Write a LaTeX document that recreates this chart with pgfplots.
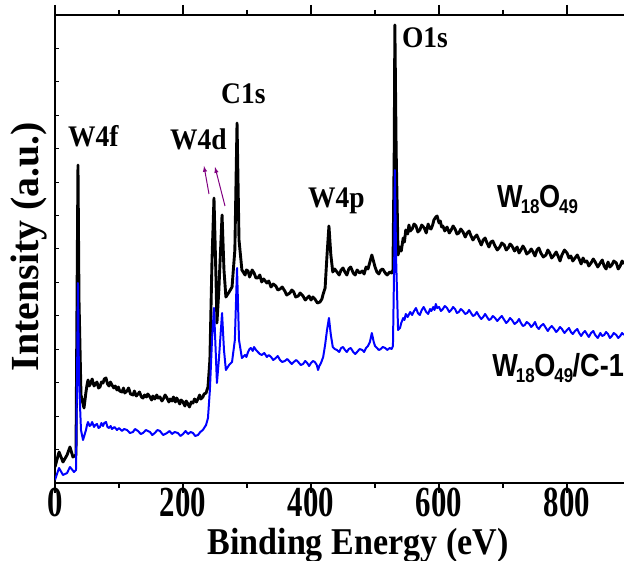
\documentclass[border=0pt]{standalone}
\usepackage{pgfplots}
\pgfplotsset{compat=1.18}
\usepackage{fontspec}
\setmainfont{Liberation Serif}
\newfontfamily\tickfont[FakeStretch=0.72]{Liberation Serif}
\newfontfamily\axlbl[FakeStretch=0.9]{Liberation Serif}
\newfontfamily\peak[FakeStretch=0.92]{Liberation Serif}
\newfontfamily\samp[FakeStretch=0.85]{Liberation Sans}
\definecolor{arrowpurple}{RGB}{128,0,128}

\begin{document}
\begin{tikzpicture}
  \begin{axis}[
      name=ax,
      scale only axis,
      width=569bp, height=468bp,
      xmin=0, xmax=889, ymin=0, ymax=468,
      axis x line=box, axis y line*=left,
      axis line style={line width=1.4pt},
      xtick={0,200,400,600,800},
      xticklabels={0,200,400,600,800},
      minor xtick={100,300,500,700},
      ytick distance=33.43,
      yticklabels={},
      x tick style={line width=1.2pt, black, /pgfplots/major tick length=10bp, /pgfplots/minor tick length=5bp},
      y tick style={line width=1pt, black, /pgfplots/major tick length=4bp},
      xtick align=outside,
      ytick align=inside,
      xticklabel style={font=\tickfont\bfseries\fontsize{43}{43}\selectfont, inner sep=0pt, yshift=-1bp},
      xlabel={Binding Energy (eV)},
      xlabel style={font=\axlbl\bfseries\fontsize{38}{38}\selectfont, inner sep=0pt,
        at={(axis description cs:0.5325,-0.152)}, anchor=base},
      ylabel={Intensity (a.u.)},
      ylabel style={font=\bfseries\fontsize{40}{40}\selectfont, inner sep=0pt,
        at={(axis description cs:-0.0457,0.505)}, anchor=center},
      clip=true,
    ]

    % W18O49
    \addplot[black, line width=2.9pt, line join=round] coordinates {
      (0,16) (6.3,31) (12.5,21) (18.8,28) (23.4,36) (28,26) (32.8,28) (34.4,183)
      (35.9,318) (37.5,183) (40.6,88) (45.3,75)
      (48.4,91) (50,98) (51.6,103) (53.5,97) (56,100) (58,104) (61,97) (63,99)
      (65.6,101) (68,95) (70.3,96) (72.5,101) (75,100) (77,104) (79.7,105)
      (82,99) (84.4,97) (86.5,101) (89,98) (92,95) (94,97) (96.9,93) (99,96)
      (101,92) (104.7,91) (107,95) (109,90) (112.5,92) (115,95) (118,89)
      (121.9,88) (124,92) (127,87) (129.7,89) (132,91) (135,86) (137.5,85)
      (140,88) (143,86) (145,89) (148.4,86) (151,83) (153,87) (156,84)
      (159,88) (161,85) (164,86) (167,82) (170,85) (172,88) (175,85) (178,81)
      (180,84) (182.8,82) (185,86) (188,81) (190,85) (192,83) (195,79)
      (197,83) (200,81) (203,77) (205,82) (207.8,79) (210,76) (213,81)
      (215.6,80) (218,84) (221,81) (223.4,84) (226,88) (228,84) (231,86)
      (233,89) (236,90)
      (239,96) (242,123) (245.3,223) (248.4,285) (251.6,203) (253,160)
      (256,193) (261,268) (264,213) (267,186) (272,191) (276.6,196) (281,233)
      (284.4,360) (287.5,243) (292,213)
      (297,208) (299,213) (301.6,212) (304,206) (306,209) (308,213) (311,210)
      (314,205) (317,205) (320,208) (323,201) (326,204) (331,200) (334,202)
      (337.5,196) (341,199) (345,197) (348,193) (351.6,194) (355,196)
      (359,192) (362,188) (367,190) (370,193) (373,191) (376,186) (380,187)
      (383,190) (387.5,187) (391,183) (394,185) (397,187) (400,183) (403,186)
      (406,184) (410,180) (414,181) (417,184) (419,189)
      (422,195) (425,228) (428,257) (431,228) (434,211) (437,214) (440.6,211)
      (444,208) (447,213) (450,215) (453,211) (456,208) (459,214) (462,216)
      (466,210) (469,208) (472,213) (476,210) (480,212) (483,209) (486,216)
      (489,214) (492,221) (495,228) (498,221) (500,216) (503,211) (506,209)
      (509,213) (512,214) (516,210) (519,208) (523,211) (526,210) (528,213)
      (530,333) (531,458) (533,333)
      (536,228) (539,236) (541,232) (544,245) (546,241) (548,253) (551,249)
      (553,258) (555,252) (558,254) (561,259) (564,257) (567,251) (570,253)
      (573,258) (577,255) (580,250) (583,259) (585,255) (587.5,254) (590,258)
      (592,263) (595,266) (597,267) (600,260) (602,262) (604,256) (606,257)
      (609,252) (612.5,256) (616,250) (619,253) (622,257) (625,254) (628,249)
      (631,250) (634,254) (637.5,251) (641,246) (644,250) (647,252) (650,247)
      (653,243) (656,246) (659,248) (662.5,243) (666,238) (669,243) (672,245)
      (675,240) (678,236) (681,241) (684,242) (687.5,237) (691,233) (695,236)
      (698,240) (702,238) (705,233) (708,235) (711,239) (714,237) (718,232)
      (722,236) (725,230) (728,233) (731,237) (734,234) (737,229) (741,231)
      (744,234) (747,231) (750,227) (753,233) (756,235) (759,230) (763,226)
      (767,228) (770,233) (773,230) (776,225) (780,228) (783,231) (786,227)
      (789,222) (792,228) (796,233) (800,230) (803,225) (806,227) (809,222)
      (812.5,225) (816,228) (819,224) (822,219) (825,225) (828,221) (831,222)
      (834,217) (837.5,220) (841,224) (844,221) (848,216) (852,220) (855,223)
      (858,217) (861,214) (864,221) (867,216) (870,218) (873,222) (877,220)
      (880,214) (883,217) (886,222) (889,219)
    };

    % W18O49/C-1
    \addplot[blue, line width=2pt, line join=round] coordinates {
      (0,3) (6.3,15) (12.5,8) (18.8,10) (23.4,16) (29.7,11) (32.8,13)
      (34.4,103) (35.9,200) (37.5,103) (40.6,53) (43.8,43)
      (48.4,53) (50,58) (51.6,61) (54,57) (56,58) (58,61) (61,56) (63,58)
      (65.6,59) (68,55) (70.3,56) (72.5,60) (75,57) (77,60) (79.7,61) (82,56)
      (84.4,55) (87,57) (89,54) (93,56) (96.9,53) (100,55) (104.7,52)
      (108,54) (112.5,53) (117,50) (121.9,51) (125,54) (129.7,52) (134,49)
      (137.5,50) (142,53) (148.4,51) (152,48) (156,50) (160,53) (164,52)
      (169,48) (175,50) (179,52) (182.8,49) (187,51) (192,50) (196,47)
      (200,49) (204,52) (207.8,49) (212,51) (215.6,50) (219,47) (223.4,48)
      (227,51) (231,53)
      (236,58) (239,65) (242,93) (245.3,143) (248.4,175) (251.6,123) (253,100)
      (256,123) (261,170) (264,133) (267,113) (272,118) (276.6,121) (281,143)
      (284.4,215) (287.5,143) (292,125)
      (297,128) (299,126) (301.6,131) (304,134) (306,135) (309,132) (311,136)
      (314,133) (317,131) (320,129) (323,128) (327,130) (331,126) (334,128)
      (337.5,126) (341,123) (345,125) (348,127) (351.6,123) (355,121)
      (359,122) (363,124) (367,121) (370,119) (373,121) (377,123) (380,121)
      (384,118) (387.5,119) (391,122) (394,120) (397,117) (400,120) (403,122)
      (406,121) (409,118) (411,113) (413,117) (415.6,120)
      (419,126) (422,138) (425,153) (428,165) (431,148) (434,136) (437,134)
      (440.6,133) (444,131) (447,135) (450,136) (453,133) (456,131) (459,134)
      (462,135) (466,131) (469,129) (472,131) (476,134) (480,133) (483,131)
      (486,135) (489,137) (492,141) (495,150) (498,141) (500,137) (503,135)
      (506,133) (509,134) (512,136) (516,135) (519,133) (523,135) (526,134)
      (528,137) (530,223) (531,313) (533,223)
      (536,153) (539,155) (541,160) (544,165) (546,163) (548,169) (551,166)
      (555,171) (558,168) (561,172) (564,175) (567,170) (570,168) (573,173)
      (576,176) (580,171) (583,169) (586,174) (588,172) (591,176) (593,173)
      (595,179) (597,175) (600,176) (603,172) (606,174) (609,177) (612.5,175)
      (616,171) (619,173) (622,176) (625,174) (628,170) (631,171) (634,174)
      (637.5,172) (641,169) (644,170) (647,173) (650,170) (653,167) (656,168)
      (659,171) (662.5,167) (666,164) (669,166) (672,169) (675,166) (678,163)
      (681,164) (684,167) (687.5,165) (691,162) (695,165) (698,167) (702,163)
      (705,160) (708,162) (711,165) (714,163) (718,159) (722,161) (725,164)
      (728,160) (731,157) (734,158) (737,161) (741,159) (744,156) (747,158)
      (750,161) (753,156) (756,154) (759,157) (763,159) (767,155) (770,152)
      (773,155) (776,157) (780,154) (783,151) (786,153) (789,156) (792,154)
      (796,150) (800,153) (803,155) (806,151) (809,149) (812.5,152) (816,154)
      (819,150) (822,147) (825,150) (828,152) (831,149) (834,146) (837.5,150)
      (841,152) (844,148) (848,145) (852,150) (855,147) (858,148) (861,151)
      (864,149) (867,145) (870,147) (873,150) (877,148) (880,145) (883,147)
      (886,150) (889,148)
    };

    % peak labels
    \begin{scope}[every node/.style={inner sep=0pt, anchor=base west,
        font=\peak\bfseries\fontsize{30}{30}\selectfont}]
      \node at (axis cs:20.3,336) {W4f};
      \node at (axis cs:179.7,333) {W4d};
      \node at (axis cs:259.4,379) {C1s};
      \node at (axis cs:542,435) {O1s};
      \node at (axis cs:395,275) {W4p};
    \end{scope}
    \begin{scope}[every node/.style={inner sep=0pt, anchor=base west,
        font=\samp\bfseries\fontsize{32}{32}\selectfont}]
      \node at (axis cs:690.6,275) {W\kern-2pt$_{\mbox{\samp\bfseries\fontsize{20}{20}\selectfont 18}}$\kern-1pt O\kern-1pt$_{\mbox{\samp\bfseries\fontsize{20}{20}\selectfont 49}}$};
      \node at (axis cs:683,106) {W\kern-2pt$_{\mbox{\samp\bfseries\fontsize{20}{20}\selectfont 18}}$\kern-1pt O\kern-1pt$_{\mbox{\samp\bfseries\fontsize{20}{20}\selectfont 49}}$\kern-1pt/C-1};
    \end{scope}

    % arrows
    \draw[arrowpurple, line width=1pt, -latex] (axis cs:240.6,289) -- (axis cs:232.8,317);
    \draw[arrowpurple, line width=1pt, -latex] (axis cs:265.6,277) -- (axis cs:250,316);
  \end{axis}
  \pgfresetboundingbox
  \useasboundingbox ([xshift=-55bp,yshift=-78bp]ax.south west) rectangle ([yshift=15bp]ax.north east);
\end{tikzpicture}
\end{document}
